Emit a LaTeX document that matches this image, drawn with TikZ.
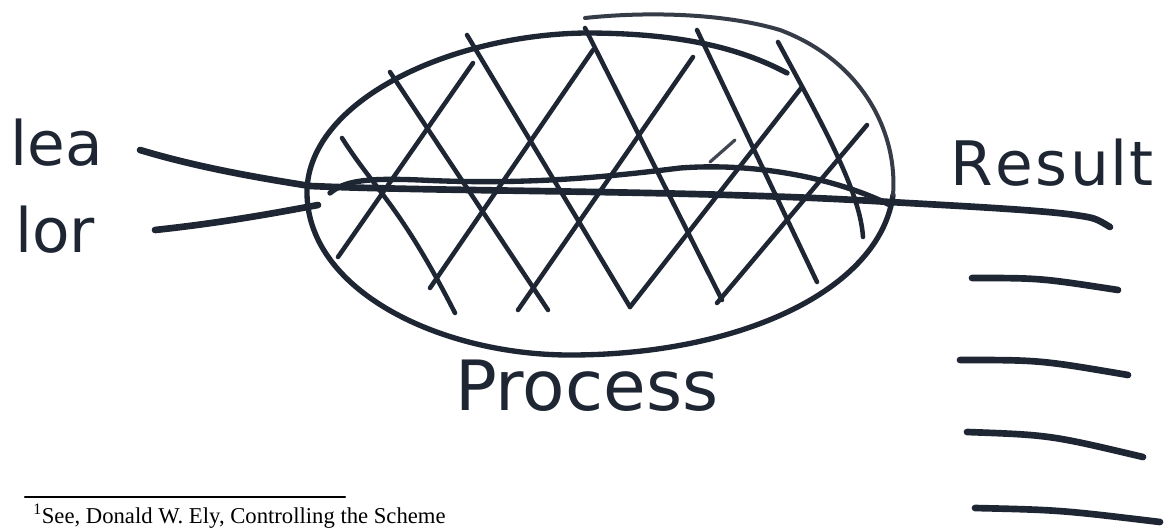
\documentclass[tikz,border=0pt]{standalone}
\usepackage{fontspec}
\setmainfont{Liberation Serif}
\newfontfamily\hand{DejaVu Sans}
\definecolor{ink}{HTML}{1F2633}
\begin{document}
\begin{tikzpicture}[x=0.75pt,y=-0.75pt, line cap=round, line join=round,
  inkline/.style={draw=ink, line width=4pt},
  heavy/.style={draw=ink, line width=5pt},
  hatch/.style={draw=ink, line width=3.4pt},
  fine/.style={draw=ink!85, line width=2.4pt},
  outer/.style={draw=ink!90, line width=3pt},
  lbl/.style={text=ink, inner sep=0pt, font=\hand\fontsize{46}{50}\selectfont},
  big/.style={text=ink, inner sep=0pt, font=\hand\fontsize{52}{56}\selectfont}]
\useasboundingbox (0,0) rectangle (1167,529);
\fill[white] (0,0) rectangle (1167,529);

% labels
\node[lbl, anchor=base west] (lea) at (10,165) {lea};
\node[lbl, anchor=base west] (lor) at (15,252) {lor};
\node[lbl, anchor=base west] (result) at (950,185) {R\kern2pt e\kern2pt s\kern2pt u\kern1pt l\kern1pt t};
\node[big, anchor=base west] (process) at (455,410) {Process};

% ellipse (open, overshooting at the top right)
\draw[inkline] (787,73) .. controls (740,48) and (680,33) .. (585,33)
  .. controls (450,35) and (310,100) .. (307,190)
  .. controls (305,290) and (440,355) .. (570,355)
  .. controls (740,355) and (880,290) .. (893,195);
\draw[outer] (893,195) .. controls (898,130) and (860,60) .. (780,30)
  .. controls (720,12) and (640,12) .. (585,18);

% hatching: descending strokes
\draw[hatch] (342,138) .. controls (375,190) and (400,205) .. (455,313);
\draw[hatch] (390,72) -- (548,310);
\draw[hatch] (467,35) -- (630,307);
\draw[hatch] (585,28) -- (722,300);
\draw[hatch] (697,30) -- (817,282);
\draw[hatch] (778,42) .. controls (820,120) and (860,190) .. (863,237);
% hatching: ascending strokes
\draw[hatch] (338,257) -- (473,63);
\draw[hatch] (430,288) -- (593,50);
\draw[hatch] (518,310) -- (693,57);
\draw[hatch] (630,307) -- (802,87);
\draw[hatch] (717,303) -- (867,125);
\draw[fine] (710,162) -- (735,140);

% input lines and the through line
\coordinate (in1) at (140,150);
\coordinate (in2) at (155,230);
\coordinate (out1) at (1110,227);
\draw[heavy] (in1) .. controls (200,168) and (260,178) .. (310,186)
  .. controls (450,192) and (700,190) .. (890,202)
  .. controls (960,206) and (1040,210) .. (1075,215)
  .. controls (1095,218) .. (out1);
\draw[heavy] (in2) .. controls (220,223) and (270,214) .. (318,205);
\draw[inkline] (330,193) .. controls (345,180) and (370,178) .. (420,180)
  .. controls (520,185) and (600,178) .. (680,168)
  .. controls (760,162) and (840,180) .. (890,205);

% result lines
\draw[heavy] (972,278) .. controls (1040,278) .. (1118,290);
\draw[heavy] (960,360) .. controls (1040,360) .. (1128,375);
\draw[heavy] (967,432) .. controls (1050,435) .. (1143,457);
\draw[heavy] (975,508) .. controls (1060,510) .. (1160,522);

% footnote rule and text
\draw[line width=1.6pt, black] (25,497) -- (345,497);
\node[anchor=base west, inner sep=0pt, font=\fontsize{17}{20}\selectfont] (foot) at (33,523)
  {\textsuperscript{1}See, Donald W. Ely, Controlling the Scheme};
\end{tikzpicture}
\end{document}
